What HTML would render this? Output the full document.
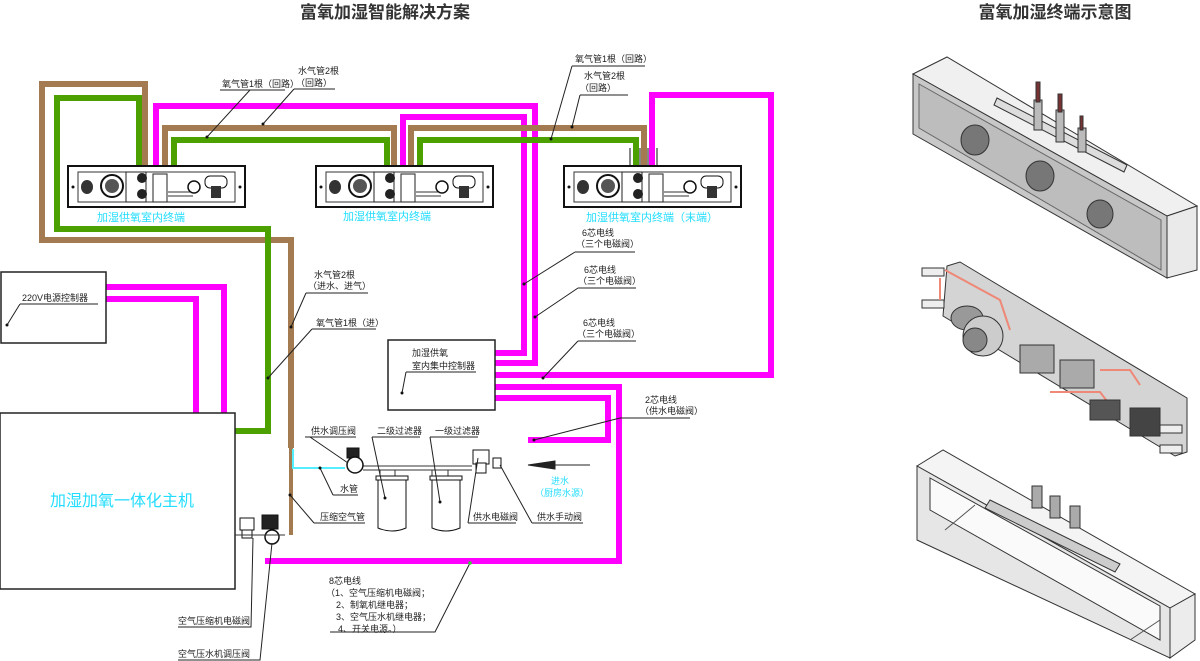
<!DOCTYPE html>
<html><head><meta charset="utf-8"><style>
html,body{margin:0;padding:0;background:#fff;}
svg{display:block;font-family:"Liberation Sans","Noto Sans CJK SC",sans-serif;}
.l{font-size:9px;fill:#222;}
.u{stroke:#222;stroke-width:1;fill:none;}
.p{fill:none;stroke-width:6;stroke-linejoin:miter;}
.g{stroke:#4ca000;}.b{stroke:#a47b50;}.m{stroke:#ff00ff;}
.c{fill:#22ddff;}
</style></head><body>
<svg width="1200" height="661" viewBox="0 0 1200 661">
<defs>
<g id="term">
<rect x="0" y="0" width="177" height="41" fill="#fff" stroke="#111" stroke-width="2"/>
<rect x="10" y="6" width="157" height="30" fill="none" stroke="#333" stroke-width="1"/>
<circle cx="5" cy="21" r="1.5" fill="#111"/><circle cx="172" cy="21" r="1.5" fill="#111"/>
<ellipse cx="19" cy="21" rx="6" ry="7" fill="#333"/>
<circle cx="44" cy="20" r="11" fill="#fff" stroke="#111" stroke-width="2"/>
<circle cx="44" cy="20" r="7" fill="#555"/>
<rect x="58" y="6" width="20" height="30" fill="none" stroke="#222"/>
<circle cx="74" cy="12" r="5" fill="#222"/><circle cx="74" cy="28" r="5" fill="#222"/>
<rect x="85" y="8" width="14" height="28" fill="none" stroke="#222"/>
<path d="M100 26 H125 M100 30 H125" stroke="#333"/>
<circle cx="126" cy="21" r="6" fill="#fff" stroke="#111" stroke-width="1.5"/>
<rect x="137" y="10" width="22" height="12" rx="5" fill="#fff" stroke="#111"/>
<rect x="143" y="20" width="10" height="12" fill="#333"/>
</g>
</defs>

<text x="385" y="18" text-anchor="middle" font-size="17" font-weight="bold" fill="#333">富氧加湿智能解决方案</text>
<text x="1055" y="18" text-anchor="middle" font-size="17" font-weight="bold" fill="#333">富氧加湿终端示意图</text>

<!-- pipes -->
<path class="p b" d="M145,167 V84 H42 V240 H291 V448"/>
<path d="M291,448 V535" stroke="#a47b50" stroke-width="4" fill="none"/>
<path class="p g" d="M139,167 V98 H57 V229 H268 V431 H235"/>
<path class="p m" d="M156,167 V106 H535 V363 H495"/>
<path class="p b" d="M165,167 V128 H394 V167"/>
<path class="p g" d="M174,167 V140 H387 V167"/>
<path class="p m" d="M403,167 V117 H524 V353 H495"/>
<path class="p b" d="M411,167 V128 H644 V167"/>
<path class="p g" d="M420,167 V140 H636 V167"/>
<path class="p m" d="M652,167 V95 H771 V375 H495"/>
<path class="p m" d="M495,387 H619 V561 H265"/>
<path class="p m" d="M495,398 H608 V440 H528"/>
<path class="p m" d="M106,287 H224 V413"/>
<path class="p m" d="M106,299 H196 V413"/>
<path d="M630,148 V167 M640,148 V167 M648,148 V167 M657,148 V167" stroke="#111" stroke-width="1"/>

<!-- terminals -->
<use href="#term" x="68" y="166"/>
<use href="#term" x="316" y="166"/>
<use href="#term" x="564" y="166"/>
<text x="141" y="221" text-anchor="middle" class="c" font-size="11">加湿供氧室内终端</text>
<text x="387" y="220" text-anchor="middle" class="c" font-size="11">加湿供氧室内终端</text>
<text x="652" y="221" text-anchor="middle" class="c" font-size="11">加湿供氧室内终端（末端）</text>

<!-- boxes -->
<rect x="1" y="272" width="105" height="71" fill="#fff" stroke="#222" stroke-width="1.5"/>
<rect x="388" y="340" width="107" height="70" fill="#fff" stroke="#222" stroke-width="1.5"/>
<rect x="0" y="413" width="235" height="176" fill="#fff" stroke="#222" stroke-width="1.5"/>
<text x="122" y="506" text-anchor="middle" class="c" font-size="16">加湿加氧一体化主机</text>

<!-- water line -->
<path d="M293,449 V468 H345" stroke="#55eeff" stroke-width="2" fill="none"/>
<path d="M363,466 H472 M363,470 H472 M380,470 V478 M395,470 V478 M432,470 V478 M448,470 V478" stroke="#333" stroke-width="1" fill="none"/>
<g stroke="#111" fill="#fff">
<rect x="347" y="448" width="12" height="10" fill="#222"/>
<circle cx="355" cy="465" r="8" stroke-width="1.5"/>
<path d="M378,478 h28 v50 q-14,6 -28,0 z"/>
<rect x="376" y="476" width="32" height="4"/>
<path d="M432,478 h28 v50 q-14,6 -28,0 z"/>
<rect x="430" y="476" width="32" height="4"/>
<rect x="473" y="450" width="16" height="14"/>
<rect x="476" y="463" width="10" height="10"/>
<rect x="493" y="458" width="8" height="10"/>
<rect x="262" y="515" width="16" height="14" fill="#222"/>
<circle cx="272" cy="537" r="7" stroke-width="1.5"/>
<rect x="240" y="518" width="14" height="12"/>
<rect x="242" y="530" width="10" height="8"/>
</g>
<path d="M235,535 H285" stroke="#333" stroke-width="1"/>
<path d="M590,465 H555 M555,461 L528,465 L555,469 Z" stroke="#222" stroke-width="1" fill="#222"/>
<text x="560" y="484" text-anchor="middle" class="c" font-size="9">进水</text>
<text x="562" y="496" text-anchor="middle" class="c" font-size="9">（厨房水源）</text>

<!-- labels -->
<g class="l">
<text x="222" y="87">氧气管1根（回路）</text>
<text x="298" y="74">水气管2根</text><text x="296" y="86">（回路）</text>
<text x="575" y="62">氧气管1根（回路）</text>
<text x="584" y="79">水气管2根</text><text x="580" y="91">（回路）</text>
<text x="582" y="236">6芯电线</text><text x="576" y="247">（三个电磁阀）</text>
<text x="584" y="273">6芯电线</text><text x="578" y="284">（三个电磁阀）</text>
<text x="583" y="326">6芯电线</text><text x="577" y="337">（三个电磁阀）</text>
<text x="22" y="301">220V电源控制器</text>
<text x="314" y="278">水气管2根</text><text x="308" y="289">（进水、进气）</text>
<text x="316" y="326">氧气管1根（进）</text>
<text x="412" y="356">加湿供氧</text><text x="412" y="369">室内集中控制器</text>
<text x="645" y="403">2芯电线</text><text x="640" y="414">（供水电磁阀）</text>
<text x="311" y="434">供水调压阀</text>
<text x="377" y="434">二级过滤器</text>
<text x="435" y="434">一级过滤器</text>
<text x="340" y="492">水管</text>
<text x="320" y="520">压缩空气管</text>
<text x="473" y="520">供水电磁阀</text>
<text x="537" y="520">供水手动阀</text>
<text x="329" y="584">8芯电线</text>
<text x="326" y="596">（1、空气压缩机电磁阀；</text>
<text x="336" y="608">2、制氧机继电器；</text>
<text x="336" y="620">3、空气压水机继电器；</text>
<text x="338" y="632">4、开关电源。）</text>
<text x="178" y="624">空气压缩机电磁阀</text>
<text x="178" y="657">空气压水机调压阀</text>
</g>
<g class="u">
<path d="M220,90 H285 M250,90 L207,137"/>
<path d="M294,89 H335 M294,89 L263,124"/>
<path d="M572,66 H645 M572,66 L551,139"/>
<path d="M580,95 H628 M580,95 L572,127"/>
<path d="M575,252 H635 M575,252 L524,284"/>
<path d="M578,288 H636 M578,288 L535,317"/>
<path d="M578,341 H636 M578,341 L543,378"/>
<path d="M20,304 H98 M20,304 L7,325"/>
<path d="M306,293 H368 M306,293 L291,327"/>
<path d="M312,329 H376 M312,329 L268,378"/>
<path d="M406,372 H476 M406,372 L402,393"/>
<path d="M620,418 H690 M620,418 L534,440"/>
<path d="M305,437 H356 M310,437 L348,463"/>
<path d="M372,437 H420 M372,437 L385,498"/>
<path d="M430,437 H478 M430,437 L440,502"/>
<path d="M333,495 H358 M333,495 L320,468"/>
<path d="M314,523 H365 M314,523 L290,495"/>
<path d="M468,523 H516 M468,523 L478,458"/>
<path d="M532,523 H583 M532,523 L500,465"/>
<path d="M330,632 H435 L470,563"/>
<path d="M178,627 H251 L253,538"/>
<path d="M178,660 H260 L272,543"/>
</g>
<g fill="#111">
<circle cx="207" cy="137" r="1.5"/><circle cx="263" cy="124" r="1.5"/><circle cx="551" cy="139" r="1.5"/><circle cx="572" cy="127" r="1.5"/>
<circle cx="524" cy="284" r="1.5"/><circle cx="535" cy="317" r="1.5"/><circle cx="543" cy="378" r="1.5"/><circle cx="7" cy="325" r="1.5"/>
<circle cx="291" cy="327" r="1.5"/><circle cx="268" cy="378" r="1.5"/><circle cx="402" cy="393" r="1.5"/><circle cx="534" cy="440" r="1.5"/>
<circle cx="320" cy="468" r="1.5"/><circle cx="290" cy="495" r="1.5"/><circle cx="385" cy="498" r="1.5"/><circle cx="440" cy="502" r="1.5"/>
</g>
<circle cx="470" cy="563" r="1.8" fill="#3c3"/>

<!-- right illustrations -->
<g stroke="#333" stroke-width="1">
<!-- top panel -->
<polygon points="913,74 947,57 1197,206 1167,216" fill="#f0f0f0"/>
<polygon points="913,74 1167,216 1167,278 913,134" fill="#c8c8c8"/>
<polygon points="919,84 1161,220 1161,270 919,128" fill="#bdbdbd" stroke="#666"/>
<polygon points="1167,216 1197,206 1197,270 1167,278" fill="#eaeaea"/>
<polygon points="997,98 1127,165 1124,172 994,105" fill="#ddd"/>
<ellipse cx="975" cy="140" rx="14" ry="15" fill="#777"/>
<ellipse cx="1040" cy="176" rx="14" ry="15" fill="#777"/>
<ellipse cx="1100" cy="214" rx="13" ry="14" fill="#777"/>
<rect x="1034" y="100" width="8" height="30" fill="#bbb"/><rect x="1036" y="82" width="4" height="20" fill="#733"/>
<rect x="1056" y="110" width="8" height="32" fill="#bbb"/><rect x="1058" y="94" width="4" height="18" fill="#733"/>
<rect x="1078" y="128" width="8" height="24" fill="#bbb"/><rect x="1080" y="116" width="3" height="14" fill="#733"/>
<!-- middle assembly -->
<polygon points="947,266 960,262 1187,398 1187,452 1175,456 943,316" fill="#d4d4d4"/>
<rect x="922" y="268" width="22" height="8" fill="#eee"/><rect x="922" y="300" width="22" height="8" fill="#eee"/>
<path d="M940,278 V300 M945,270 L1000,300 L1010,330" stroke="#e87" stroke-width="2" fill="none"/>
<ellipse cx="967" cy="318" rx="16" ry="12" fill="#999"/>
<circle cx="983" cy="336" r="20" fill="#ccc"/>
<circle cx="975" cy="340" r="12" fill="#888"/>
<rect x="1020" y="345" width="34" height="28" fill="#aaa"/>
<rect x="1060" y="360" width="34" height="28" fill="#aaa"/>
<path d="M1050,392 H1100 L1110,405 M1100,370 H1130 L1140,385" stroke="#e87" stroke-width="2" fill="none"/>
<rect x="1090" y="400" width="30" height="20" fill="#555"/>
<rect x="1130" y="408" width="30" height="28" fill="#444"/>
<rect x="1160" y="425" width="22" height="8" fill="#eee"/><rect x="1160" y="445" width="22" height="8" fill="#eee"/>
<!-- bottom box -->
<polygon points="917,466 943,450 1195,594 1170,608" fill="#f4f4f4"/>
<polygon points="917,466 1170,608 1170,658 917,540" fill="#e6e6e6"/>
<polygon points="930,478 1160,606 1160,640 930,510" fill="#fafafa"/>
<polygon points="1170,608 1195,594 1195,640 1170,658" fill="#ececec"/>
<polygon points="990,500 1120,564 1115,572 985,508" fill="#ccc"/>
<path d="M945,530 L975,505 M1130,640 L1160,620" stroke="#555"/>
<rect x="1032" y="486" width="10" height="22" fill="#aaa"/>
<rect x="1050" y="496" width="10" height="22" fill="#aaa"/>
<rect x="1070" y="506" width="10" height="22" fill="#aaa"/>
</g>
</svg>
</body></html>
